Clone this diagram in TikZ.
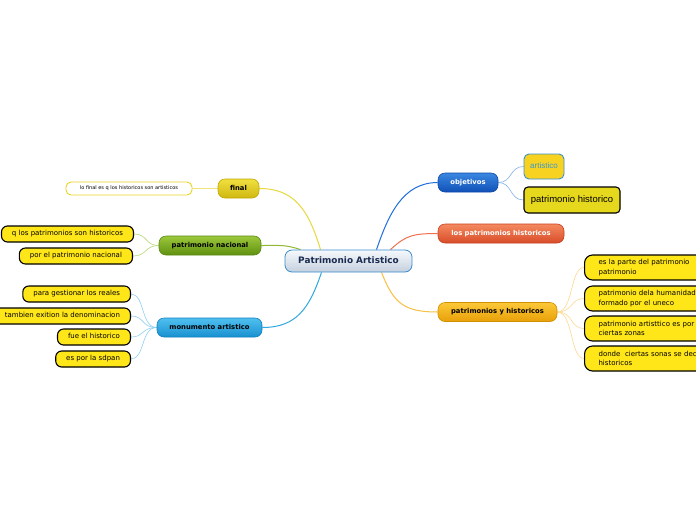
\documentclass[tikz,border=0pt]{standalone}
\usepackage{fontspec}
\setmainfont{DejaVu Sans}
\newfontfamily\arialf{Liberation Sans}
\pgfdeclarelayer{bg}
\pgfsetlayers{bg,main}
\definecolor{leafy}{HTML}{FFE619}
\definecolor{objT}{HTML}{3A88E0}\definecolor{objB}{HTML}{1050B8}\definecolor{objD}{HTML}{0C48A8}
\definecolor{losT}{HTML}{F48A60}\definecolor{losB}{HTML}{D84C28}\definecolor{losD}{HTML}{C84020}
\definecolor{pyhT}{HTML}{FCC838}\definecolor{pyhB}{HTML}{E8A008}\definecolor{pyhD}{HTML}{D09000}
\definecolor{finT}{HTML}{F0E040}\definecolor{finB}{HTML}{D0B810}\definecolor{finD}{HTML}{C0A800}
\definecolor{nacT}{HTML}{9CC83C}\definecolor{nacB}{HTML}{609010}\definecolor{nacD}{HTML}{588A10}
\definecolor{monT}{HTML}{50C0F0}\definecolor{monB}{HTML}{1890D0}\definecolor{monD}{HTML}{1080C0}
\begin{document}
\begin{tikzpicture}[x=1pt,y=-1pt,
  cat/.style={rounded corners=7pt, minimum height=19pt, inner xsep=0pt, inner ysep=0pt, text height=5.2pt, text depth=1.5pt, line width=0.6pt, font=\fontsize{6.8}{8}\selectfont\bfseries},
  lleaf/.style={draw=black, line width=1.1pt, fill=leafy, rounded corners=6pt, minimum height=16pt, inner xsep=10.5pt, inner ysep=0pt, text height=5.3pt, text depth=1.5pt, font=\fontsize{7}{8}\selectfont, anchor=east},
  rleaf/.style={draw=black, line width=1.1pt, fill=leafy, rounded corners=8pt, minimum height=25pt, inner xsep=14pt, inner ysep=0pt, text width=130pt, align=left, font=\fontsize{7}{9.5}\selectfont, anchor=west},
  main/.style={line width=1pt},
  child/.style={line width=0.6pt}]
\useasboundingbox (0,0) rectangle (696,520);
\clip (0,0) rectangle (696,520);
% central
\node[rounded corners=7pt, minimum width=127pt, minimum height=22pt, inner sep=0pt, text height=6.8pt, text depth=1.9pt, draw={rgb,255:red,58;green,140;blue,204}, line width=0.8pt, top color={rgb,255:red,246;green,249;blue,252}, bottom color={rgb,255:red,196;green,208;blue,222}, text={rgb,255:red,26;green,42;blue,80}, font=\fontsize{8.9}{10}\selectfont\bfseries] (c) at (348.5,261) {Patrimonio Artistico};
% categories
\node[cat, minimum width=60pt, top color=objT, bottom color=objB, draw=objD, text=white] (obj) at (468,182.5) {objetivos};
\node[cat, minimum width=126pt, top color=losT, bottom color=losB, draw=losD, text=white] (los) at (501,233.5) {los patrimonios historicos};
\node[cat, minimum width=119pt, top color=pyhT, bottom color=pyhB, draw=pyhD, text=black] (pyh) at (497.5,312) {patrimonios y historicos};
\node[cat, minimum width=41pt, top color=finT, bottom color=finB, draw=finD, text=black] (fin) at (238.5,188.5) {final};
\node[cat, minimum width=102pt, top color=nacT, bottom color=nacB, draw=nacD, text=black] (nac) at (210,245.5) {patrimonio nacional};
\node[cat, minimum width=105pt, top color=monT, bottom color=monB, draw=monD, text=black] (mon) at (209.5,327.5) {monumento artistico};
% objetivos children
\node[rounded corners=5pt, minimum width=40pt, minimum height=25pt, inner sep=0pt, text height=6pt, text depth=1.5pt, fill={rgb,255:red,248;green,210;blue,32}, draw={rgb,255:red,58;green,144;blue,208}, line width=0.9pt, text={rgb,255:red,58;green,150;blue,210}, font=\arialf\fontsize{8}{9}\selectfont] (art) at (544,166.5) {artistico};
\node[rounded corners=4pt, minimum width=96pt, minimum height=26pt, inner sep=0pt, text height=7pt, text depth=2pt, fill={rgb,255:red,230;green,216;blue,28}, draw=black, line width=1.1pt, font=\arialf\fontsize{9.5}{10}\selectfont] (ph) at (572,200) {patrimonio historico};
% final child
\node[rounded corners=5pt, minimum width=126pt, minimum height=13pt, inner sep=0pt, text height=3.8pt, text depth=1pt, fill=white, draw={rgb,255:red,232;green,212;blue,32}, line width=0.9pt, font=\fontsize{5}{6}\selectfont] (f1) at (129,188.5) {lo final es q los historicos son artisticos};
% nacional children
\node[lleaf] (n1) at (134,234) {q los patrimonios son historicos};
\node[lleaf] (n2) at (133,256) {por el patrimonio nacional};
% monumento children
\node[lleaf] (m1) at (131,294) {para gestionar los reales};
\node[lleaf] (m2) at (131,316) {tambien exition la denominacion};
\node[lleaf] (m3) at (131,337) {fue el historico};
\node[lleaf] (m4) at (131,359) {es por la sdpan};
% pyh children
\node[rleaf] (p1) at (584,267.5) {es la parte del patrimonio\\patrimonio};
\node[rleaf] (p2) at (584,298.5) {patrimonio dela humanidad\\formado por el uneco};
\node[rleaf] (p3) at (584,328.5) {patrimonio artisttico es por\\ciertas zonas};
\node[rleaf] (p4) at (584,358.5) {donde \ ciertas sonas se dec\\historicos};
\begin{pgfonlayer}{bg}
\fill[white] (0,0) rectangle (696,520);
\draw[main, draw={rgb,255:red,30;green,110;blue,220}] ([xshift=28pt]c.north) .. controls +(12,-35) and +(-35,0) .. (obj.west);
\draw[main, draw={rgb,255:red,240;green,112;blue,80}] ([xshift=42pt]c.north) .. controls +(15,-14) and +(-25,0) .. (los.west);
\draw[main, draw={rgb,255:red,248;green,192;blue,64}] ([xshift=33pt]c.south) .. controls +(12,30) and +(-35,0) .. (pyh.west);
\draw[main, draw={rgb,255:red,232;green,216;blue,64}] ([xshift=-28pt]c.north) .. controls +(-12,-40) and +(35,0) .. (fin.east);
\draw[main, draw={rgb,255:red,144;green,184;blue,48}] ([xshift=-48pt]c.north) .. controls +(-15,-5) and +(20,0) .. (nac.east);
\draw[main, draw={rgb,255:red,48;green,168;blue,224}] ([xshift=-27pt]c.south) .. controls +(-12,35) and +(35,0) .. (mon.east);
\foreach \t in {art,ph}
  \draw[child, draw={rgb,255:red,128;green,176;blue,232}] (obj.east) .. controls +(14,0) and +(-14,0) .. (\t.west);
\draw[child, draw={rgb,255:red,240;green,228;blue,120}] (fin.west) -- (f1.east);
\foreach \t in {n1,n2}
  \draw[child, draw={rgb,255:red,184;green,216;blue,120}] (nac.west) .. controls +(-14,0) and +(14,0) .. (\t.east);
\foreach \t in {m1,m2,m3,m4}
  \draw[child, draw={rgb,255:red,144;green,208;blue,240}] (mon.west) .. controls +(-16,0) and +(14,0) .. (\t.east);
\foreach \t in {p1,p2,p3,p4}
  \draw[child, draw={rgb,255:red,252;green,216;blue,144}] (pyh.east) .. controls +(16,0) and +(-14,0) .. (\t.west);
\end{pgfonlayer}
\end{tikzpicture}
\end{document}
